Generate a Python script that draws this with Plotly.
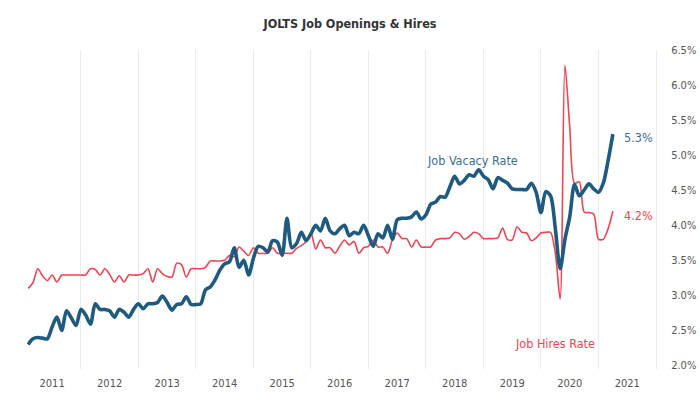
import pandas as pd
import plotly.graph_objects as go

# Monthly data, Jan 2011 - Mar 2021
months = pd.date_range("2011-01-01", "2021-03-01", freq="MS")

job_openings_rate = [
    2.30, 2.38, 2.40, 2.39, 2.38, 2.55, 2.69, 2.50, 2.78, 2.68, 2.57, 2.80,
    2.72, 2.59, 2.88, 2.80, 2.80, 2.78, 2.69, 2.80, 2.76, 2.69, 2.80, 2.88,
    2.81, 2.88, 2.88, 2.90, 2.99, 2.90, 2.79, 2.87, 2.88, 2.98, 2.87, 2.87,
    2.88, 3.08, 3.12, 3.22, 3.36, 3.45, 3.48, 3.68, 3.40, 3.50, 3.29, 3.53,
    3.70, 3.68, 3.62, 3.78, 3.76, 3.57, 4.10, 3.68, 3.74, 3.90, 3.78, 3.88,
    4.00, 3.92, 4.10, 3.92, 3.88, 3.95, 4.00, 3.85, 3.90, 3.88, 4.00, 3.85,
    3.70, 3.88, 3.82, 4.00, 3.80, 4.08, 4.10, 4.10, 4.12, 4.19, 4.09, 4.15,
    4.30, 4.33, 4.41, 4.40, 4.55, 4.70, 4.59, 4.64, 4.72, 4.70, 4.79, 4.70,
    4.65, 4.52, 4.68, 4.64, 4.60, 4.52, 4.51, 4.51, 4.51, 4.60, 4.47, 4.18,
    4.48, 4.42, 3.95, 3.38, 3.80, 4.12, 4.58, 4.42, 4.50, 4.59, 4.52, 4.47,
    4.60, 4.92, 5.30,
]

hires_rate = [
    3.10, 3.18, 3.38, 3.28, 3.21, 3.29, 3.19, 3.29, 3.29, 3.29, 3.29, 3.29,
    3.29, 3.38, 3.37, 3.29, 3.38, 3.30, 3.19, 3.28, 3.19, 3.29, 3.29, 3.29,
    3.31, 3.38, 3.19, 3.38, 3.31, 3.27, 3.26, 3.46, 3.44, 3.26, 3.38, 3.38,
    3.38, 3.40, 3.49, 3.49, 3.49, 3.50, 3.57, 3.55, 3.69, 3.63, 3.57, 3.68,
    3.60, 3.60, 3.60, 3.68, 3.60, 3.60, 3.60, 3.60, 3.67, 3.71, 3.77, 3.89,
    3.66, 3.79, 3.68, 3.68, 3.60, 3.70, 3.79, 3.72, 3.77, 3.60, 3.68, 3.70,
    3.79, 3.69, 3.69, 3.60, 3.79, 3.89, 3.81, 3.81, 3.69, 3.79, 3.69, 3.69,
    3.69, 3.79, 3.81, 3.81, 3.82, 3.90, 3.88, 3.80, 3.84, 3.90, 3.88, 3.81,
    3.81, 3.81, 3.82, 3.96, 3.80, 3.79, 3.98, 3.90, 3.89, 3.78, 3.82, 3.89,
    3.90, 3.90, 3.60, 2.95, 6.28, 5.40, 4.60, 4.62, 4.19, 4.18, 4.16, 3.80,
    3.80, 3.95, 4.20,
]

year_labels = [str(y) for y in range(2011, 2022)]
y_ticks = [2.0, 2.5, 3.0, 3.5, 4.0, 4.5, 5.0, 5.5, 6.0, 6.5]

# decimal-year position: each month sits at year + month/12
x = [d.year + d.month / 12 for d in months]

FONT = "DejaVu Sans Condensed, Liberation Sans Narrow, Roboto, sans-serif"
BLUE = "#1f5a80"
RED = "#ef4452"
BLUE_TXT = "#3b6d95"

fig = go.Figure()
fig.add_trace(go.Scatter(x=x, y=hires_rate, mode="lines",
                         line=dict(color=RED, width=1.6, shape="spline", smoothing=0.8),
                         name="Job Hires Rate"))
fig.add_trace(go.Scatter(x=x, y=job_openings_rate, mode="lines",
                         line=dict(color=BLUE, width=3.6, shape="spline", smoothing=0.8),
                         name="Job Vacacy Rate"))

fig.update_layout(
    width=700, height=399,
    margin=dict(l=27, r=44, t=50, b=30, autoexpand=False),
    paper_bgcolor="white", plot_bgcolor="white",
    showlegend=False,
    title=dict(text="<b>JOLTS Job Openings & Hires</b>", x=0.5, xanchor="center",
               y=0.94, yanchor="middle",
               font=dict(family=FONT, size=12.5, color="#333333")),
    font=dict(family=FONT),
)

fig.update_xaxes(
    range=[2011 + 1 / 12 - 0.02, 2022],
    tickvals=[int(y) + 0.5 for y in year_labels],
    ticktext=year_labels,
    showgrid=False, zeroline=False, showline=False, automargin=False,
    tickfont=dict(family=FONT, size=11, color="#555555"),
    ticklabelstandoff=6,
    minor=dict(tickvals=list(range(2012, 2023)), showgrid=True,
               gridcolor="#ebebeb", gridwidth=1),
)
fig.update_yaxes(
    side="right", range=[1.95, 6.5], automargin=False,
    tickvals=y_ticks, ticktext=[f"{v:.1f}%" for v in y_ticks],
    showgrid=False, zeroline=False,
    showline=True, linecolor="#ebebeb", linewidth=1,
    tickfont=dict(family=FONT, size=11, color="#555555"),
    ticklabelstandoff=12,
)

ann_font = dict(family=FONT, size=12.5)
fig.add_annotation(x=2017.99, y=4.93, xref="x", yref="y", text="Job Vacacy Rate",
                   showarrow=False, xanchor="left", yanchor="middle",
                   font=dict(**ann_font, color=BLUE_TXT))
fig.add_annotation(x=2019.52, y=2.32, xref="x", yref="y", text="Job Hires Rate",
                   showarrow=False, xanchor="left", yanchor="middle",
                   font=dict(**ann_font, color=RED))
fig.add_annotation(x=2021.41, y=job_openings_rate[-1] - 0.05, xref="x", yref="y",
                   text=f"{job_openings_rate[-1]:.1f}%",
                   showarrow=False, xanchor="left", yanchor="middle",
                   font=dict(**ann_font, color=BLUE_TXT))
fig.add_annotation(x=2021.41, y=hires_rate[-1] - 0.06, xref="x", yref="y",
                   text=f"{hires_rate[-1]:.1f}%",
                   showarrow=False, xanchor="left", yanchor="middle",
                   font=dict(**ann_font, color=RED))

fig.write_html("out.html", config={"displayModeBar": False},
               post_script="document.body.style.margin='0px';")
